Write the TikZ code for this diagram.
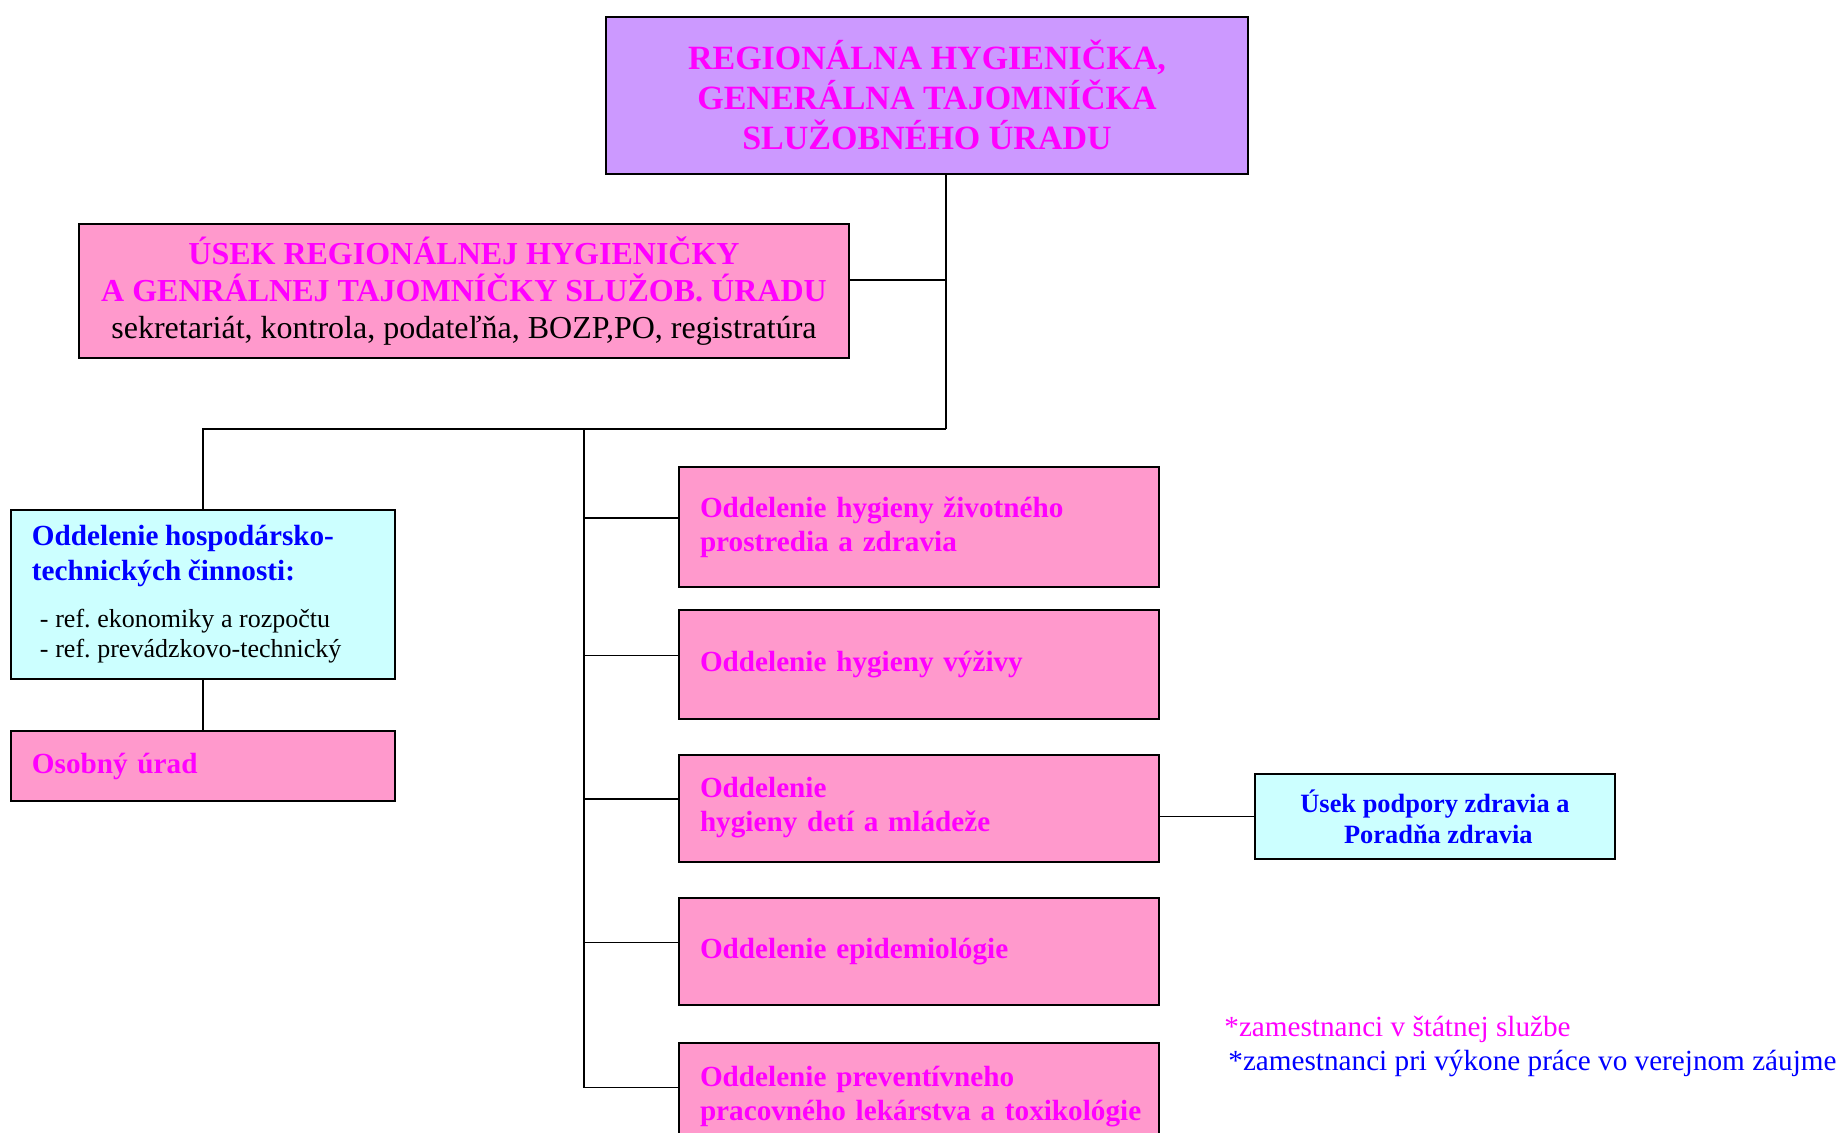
\documentclass[tikz,border=0pt]{standalone}
\usepackage{fontspec}
\setmainfont{Liberation Serif}
\definecolor{topfill}{HTML}{CC99FF}
\definecolor{pinkfill}{HTML}{FF99CC}
\definecolor{cyanfill}{HTML}{CCFFFF}
\definecolor{mag}{HTML}{FF00FF}
\definecolor{blu}{HTML}{0000FF}
\frenchspacing
\tikzset{
  box/.style={draw, line width=1pt, inner ysep=0pt, outer sep=0pt},
  headbox/.style={box, fill=topfill, text=mag, align=center, minimum width=321pt, minimum height=78.5pt, font=\fontsize{17}{20}\selectfont\bfseries},
  usekbox/.style={box, fill=pinkfill, text=mag, align=center, minimum width=385pt, minimum height=67pt, font=\fontsize{16}{18.5}\selectfont\bfseries},
  leftbox/.style={box, inner xsep=10.5pt, text width=171pt, align=left, minimum height=#1},
  oddbox/.style={box, fill=pinkfill, text=mag, inner xsep=10.5pt, text width=219pt, align=left, minimum height=#1, font=\fontsize{14.6}{17}\selectfont\bfseries},
  podbox/.style={box, fill=cyanfill, text=blu, align=center, minimum width=180pt, minimum height=42.5pt, font=\fontsize{13.2}{15.3}\selectfont\bfseries},
  note/.style={anchor=west, inner sep=0pt, font=\fontsize{14.6}{17}\selectfont}
}
\begin{document}
\begin{tikzpicture}[x=0.5pt,y=-0.5pt]
    \useasboundingbox (0,0) rectangle (1842,1132);
    \clip (0,0) rectangle (1842,1132);

    % top
    \node(reg) at (927,95) [headbox] {REGIONÁLNA HYGIENIČKA,\\ GENERÁLNA TAJOMNÍČKA\\ SLUŽOBNÉHO ÚRADU};
    \node(usek) at (464,291) [usekbox] {ÚSEK REGIONÁLNEJ HYGIENIČKY\\ A GENRÁLNEJ TAJOMNÍČKY SLUŽOB. ÚRADU\\ {\mdseries\color{black}sekretariát, kontrola, podateľňa, BOZP,PO, registratúra}};
    \coordinate(j0) at (946,429);
    \coordinate(j1) at (584,429);

    % left column
    \node(hosp) at (203,594.5) [leftbox=84.5pt, fill=cyanfill] {{\fontsize{14.6}{17.5}\selectfont\bfseries\color{blu}Oddelenie hospodársko-\\ technických činnosti:\par}\vspace{8pt}{\fontsize{13}{15.3}\selectfont\hspace*{4pt}- ref. ekonomiky a rozpočtu\\ \hspace*{4pt}- ref. prevádzkovo-technický\par}};
    \node(osob) at (203,766) [leftbox=35pt, fill=pinkfill, text=mag, font=\fontsize{14.6}{17}\selectfont\bfseries] {Osobný úrad};

    % oddelenia
    \node(o1) at (919,527) [oddbox=60pt] {Oddelenie hygieny životného\\ prostredia a zdravia};
    \node(o2) at (919,664.5) [oddbox=54.5pt] {Oddelenie hygieny výživy};
    \node(o3) at (919,808) [oddbox=53.5pt] {Oddelenie\\ hygieny detí a mládeže};
    \node(o4) at (919,951.5) [oddbox=53.5pt] {Oddelenie epidemiológie};
    \node(o5) at (919,1096.5) [oddbox=53.5pt] {Oddelenie preventívneho\\ \mbox{pracovného lekárstva a toxikológie}};
    \node(pod) at (1435,816.5) [podbox] {Úsek podpory zdravia a\\ \ Poradňa zdravia};

    % lines
    \draw[thick] (reg.south -| j0) -- (j0);
    \draw[thick] ([yshift=5.5pt]usek.east) -- ([yshift=5.5pt]usek.east -| j0);
    \draw[thick] (j0) -- (hosp.north |- j0) -- (hosp.north);
    \draw[thick] (hosp.south) -- (osob.north);
    \draw[thick] (j1) -- ([yshift=4.5pt]j1 |- o5.west);
    \foreach \i in {1,...,5}
        \draw[thick] ([yshift=4.5pt]o\i.west) -- ([yshift=4.5pt]o\i.west -| j1);
    \draw[thick] (pod.west) -- (pod.west -| o3.east);

    % legend
    \node(n1) at (1224,1029) [note, text=mag] {*zamestnanci v štátnej službe};
    \node(n2) at (1228,1063) [note, text=blu] {*zamestnanci pri výkone práce vo verejnom záujme};
\end{tikzpicture}
\end{document}
